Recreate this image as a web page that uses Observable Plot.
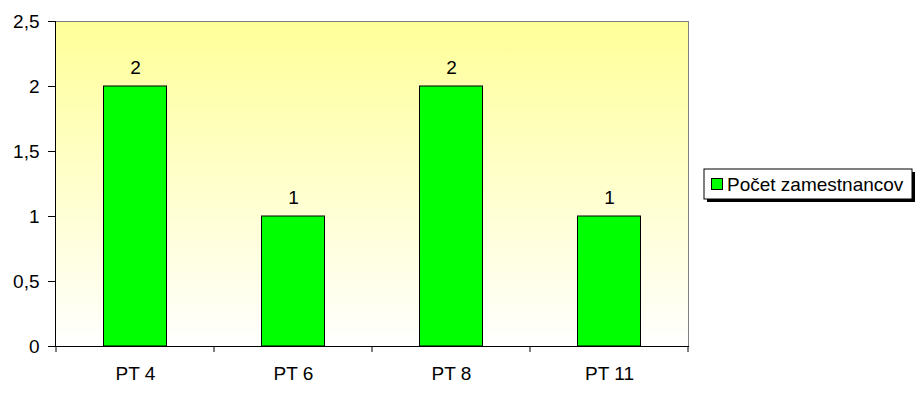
<!DOCTYPE html>
<html>
<head>
<meta charset="utf-8">
<script src="https://cdn.jsdelivr.net/npm/d3@7"></script>
<script src="https://cdn.jsdelivr.net/npm/@observablehq/plot@0.6"></script>
<style>
  html, body { margin: 0; padding: 0; background: #fff; }
</style>
</head>
<body>
<div id="chart"></div>
<script>
const categories = ["PT 4", "PT 6", "PT 8", "PT 11"];
const values = [2, 1, 2, 1];
const yTicks = [0, 0.5, 1, 1.5, 2, 2.5];
const seriesName = "Počet zamestnancov";

const data = categories.map((c, i) => ({cat: c, val: values[i]}));
const FONT = "'Liberation Sans', Arial, sans-serif";
const FS = 19;

const gradientDefs = () => {
  const svgNS = "http://www.w3.org/2000/svg";
  const defs = document.createElementNS(svgNS, "defs");
  defs.innerHTML = `<linearGradient id="bgGrad" x1="0" y1="0" x2="0" y2="1">
      <stop offset="0" stop-color="#FFFF99"/>
      <stop offset="1" stop-color="#FFFFFF"/>
    </linearGradient>`;
  return defs;
};

const boundaryTicks = (index, scales, values, dims) => {
  const x = scales.x;
  const starts = categories.map(c => x(c));
  const step = starts[1] - starts[0];
  const pos = [...starts, starts[starts.length - 1] + step];
  const y0 = dims.height - dims.marginBottom;
  const g = d3.create("svg:g").attr("stroke", "#000");
  g.selectAll("line").data(pos).join("line")
    .attr("x1", d => d).attr("x2", d => d)
    .attr("y1", y0).attr("y2", y0 + 6);
  return g.node();
};

const legend = (index, scales, values, dims) => {
  const x0 = 704, y0 = 169, w = 208, h = 30;
  const g = d3.create("svg:g");
  g.append("rect").attr("x", x0 + 3).attr("y", y0 + 3).attr("width", w).attr("height", h).attr("fill", "#000");
  g.append("rect").attr("x", x0).attr("y", y0).attr("width", w).attr("height", h)
    .attr("fill", "#fff").attr("stroke", "#000").attr("stroke-width", 1);
  g.append("rect").attr("x", x0 + 7.5).attr("y", y0 + 9.5).attr("width", 11).attr("height", 11)
    .attr("fill", "#00FF00").attr("stroke", "#000").attr("stroke-width", 1);
  g.append("text").attr("x", x0 + 23).attr("y", y0 + h / 2).attr("dy", "0.35em")
    .attr("text-anchor", "start")
    .attr("font-family", FONT).attr("font-size", FS + "px").attr("fill", "#000")
    .text(seriesName);
  return g.node();
};

const chart = Plot.plot({
  width: 922,
  height: 402,
  marginLeft: 55,
  marginRight: 234,
  marginTop: 21,
  marginBottom: 56,
  style: {fontFamily: FONT, fontSize: FS + "px", background: "#fff", color: "#000", overflow: "visible"},
  x: {domain: categories, padding: 0},
  y: {domain: [0, 2.5]},
  marks: [
    gradientDefs,
    Plot.frame({fill: "url(#bgGrad)", stroke: "#808080"}),
    Plot.barY(data, {x: "cat", y: "val", fill: "#00FF00", stroke: "#000", strokeWidth: 1, insetLeft: 47.5, insetRight: 47.5}),
    Plot.text(data, {x: "cat", y: "val", text: d => String(d.val), lineAnchor: "bottom", dy: -13, fill: "#000", fontSize: FS}),
    Plot.frame({anchor: "left", stroke: "#000"}),
    Plot.frame({anchor: "bottom", stroke: "#000"}),
    Plot.axisY({ticks: yTicks, tickFormat: d => String(d).replace(".", ","), tickSize: 7, tickPadding: 9, label: null}),
    Plot.axisX({tickSize: 0, tickPadding: 20, label: null}),
    boundaryTicks,
    legend
  ]
});

document.getElementById("chart").appendChild(chart);
</script>
</body>
</html>
